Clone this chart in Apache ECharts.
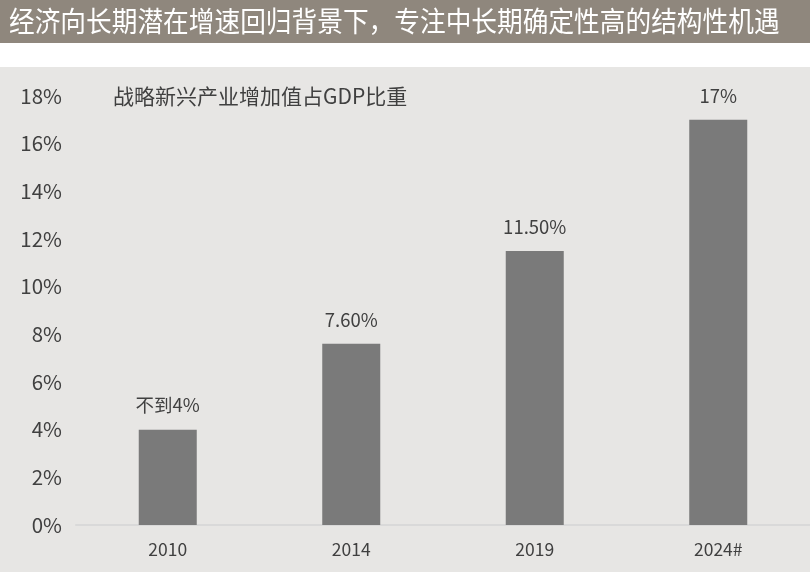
<!DOCTYPE html>
<html><head><meta charset="utf-8">
<script src="https://cdn.jsdelivr.net/npm/echarts@6/dist/echarts.min.js"></script>
<style>html,body{margin:0;padding:0;background:#fff}#c{width:810px;height:572px}</style>
</head><body><div id="c"></div>
<script>
const categories = ['2010', '2014', '2019', '2024#'];
const values = [4, 7.6, 11.5, 17];
const valueLabels = ['不到4%', '7.60%', '11.50%', '17%'];
const yTicks = [0, 2, 4, 6, 8, 10, 12, 14, 16, 18];
const titleText = '经济向长期潜在增速回归背景下，专注中长期确定性高的结构性机遇';
const seriesName = '战略新兴产业增加值占GDP比重';

const FONT = '"Noto Sans CJK SC", "Noto Sans", sans-serif';
const chart = echarts.init(document.getElementById('c'), null, {renderer: 'canvas'});
chart.setOption({
  backgroundColor: '#ffffff',
  animation: false,
  graphic: [
    {type: 'rect', z: -10, shape: {x: 0, y: 0, width: 810, height: 43}, style: {fill: '#8f877d'}},
    {type: 'rect', z: -10, shape: {x: 0, y: 67, width: 810, height: 505}, style: {fill: '#e7e6e4'}},
    {type: 'text', x: 9, y: 21, scaleX: 1, scaleY: 1.1,
      style: {text: titleText, fill: '#ffffff', font: '25.7px ' + FONT, verticalAlign: 'middle', textVerticalAlign: 'middle'}},
    {type: 'text', x: 113, y: 96,
      style: {text: seriesName, fill: '#404040', font: '21px ' + FONT, verticalAlign: 'middle', textVerticalAlign: 'middle'}}
  ],
  grid: {left: 76, right: 0, top: 96, bottom: 47, containLabel: false},
  xAxis: {
    type: 'category', data: categories,
    axisLine: {show: true, lineStyle: {color: '#d9d9d9', width: 2}},
    axisTick: {show: false},
    axisLabel: {color: '#404040', fontSize: 17.5, fontFamily: FONT, margin: 16}
  },
  yAxis: {
    type: 'value', min: yTicks[0], max: yTicks[yTicks.length - 1], interval: 2,
    axisLine: {show: false}, axisTick: {show: false}, splitLine: {show: false},
    axisLabel: {color: '#404040', fontSize: 20.5, fontFamily: FONT, margin: 14, formatter: '{value}%'}
  },
  series: [{
    name: seriesName, type: 'bar', data: values, barWidth: 58,
    itemStyle: {color: '#7a7a7a'},
    label: {show: true, position: 'top', distance: 15, color: '#404040', fontSize: 18.5, fontFamily: FONT,
      formatter: p => valueLabels[p.dataIndex]}
  }]
});
</script></body></html>
